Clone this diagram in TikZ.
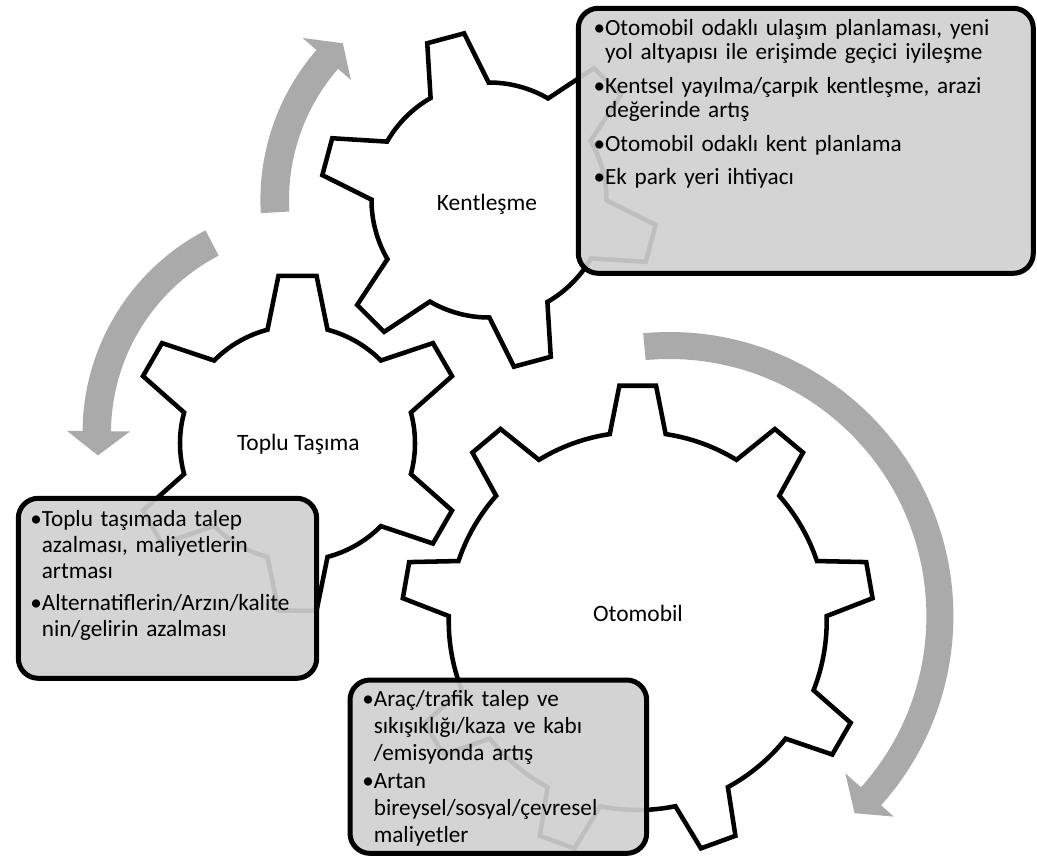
\documentclass[tikz,border=0pt]{standalone}
\usepackage{fontspec}
\setmainfont{Carlito}
\definecolor{arrowgray}{RGB}{170,170,170}
\definecolor{boxgray}{RGB}{208,208,208}
\newlength\bulw
% gear outline: #1 teeth, #2 first tooth angle, #3 root radius, #4 tip radius,
% #5 half angle of the tooth at its root, #6 half angle at its tip
\newcommand\gearpath[6]{({#2-#5}:#3)
  \foreach \k in {1,...,#1}{
    -- ({#2+(\k-1)*360/#1-#6}:#4)
    -- ({#2+(\k-1)*360/#1+#6}:#4)
    -- ({#2+(\k-1)*360/#1+#5}:#3)
    arc[start angle={#2+(\k-1)*360/#1+#5}, end angle={#2+\k*360/#1-#5}, radius=#3]
  } -- cycle}
% curved block arrow: #1 centre, #2 inner r, #3 outer r, #4 tail angle,
% #5 angle of the head base, #6 tip angle, #7 inner barb r, #8 outer barb r
\newcommand\ringarrow[8]{%
  \fill[arrowgray, shift={#1}] (#4:#3) arc[start angle=#4, end angle=#5, radius=#3]
    -- (#5:#8) -- (#6:{(#2+#3)/2}) -- (#5:#7) -- (#5:#2)
    arc[start angle=#5, end angle=#4, radius=#2] -- cycle;}
% one bulleted entry with a hanging indent, closed as its own paragraph
\newcommand\boxitem[1]{\hangindent=\bulw\hangafter=1\noindent\makebox[\bulw][l]{•}#1\par}
\begin{document}
\begin{tikzpicture}[x=0.75pt,y=-0.75pt,
  gearline/.style={draw=black, line width=3.4pt, fill=white, line join=miter},
  infobox/.style={draw=black, line width=3.75pt, fill=boxgray, fill opacity=0.92,
    rounded corners=15pt, inner sep=0pt, anchor=north west},
  gearlabel/.style={font=\fontsize{17.6pt}{21pt}\selectfont, inner sep=0pt, anchor=base},
  boxtext/.style={inner sep=0pt, anchor=base west, align=left}
]
\useasboundingbox (0,0) rectangle (1037,861);

% gears
\draw[gearline, shift={(489,200)}] \gearpath{6}{15}{117.5}{168.5}{14.8}{6.5};
\draw[gearline, shift={(297.5,443.3)}] \gearpath{6}{30}{117.5}{168.5}{14.8}{6.5};
\draw[gearline, shift={(637.7,621)}] \gearpath{9}{30}{189}{236}{8.5}{4.46};

\node[gearlabel] (kent) at (487,210) {Kentleşme};
\node[gearlabel] (toplu) at (298.3,450) {Toplu Taşıma};
\node[gearlabel] (oto) at (638,621.5) {Otomobil};

% rotation arrows
\ringarrow{(489,200)}{200}{228.6}{176.7}{221}{227}{183}{247}
\ringarrow{(311,433)}{200}{228.5}{242.5}{180.5}{174}{181}{244}
\ringarrow{(669.4,616)}{257}{284}{-95.3}{41.8}{46.8}{236}{301}

% text boxes
\node[infobox, minimum width=341.25pt, minimum height=198.75pt] (kentbox) at (575.8,5.8) {};
\node[infobox, minimum width=223.8pt, minimum height=135pt] (toplubox) at (15.8,495.8) {};
\node[infobox, minimum width=222.5pt, minimum height=130pt] (otobox) at (347.5,677.5) {};

\node[boxtext, text width=326pt, font=\fontsize{17.4pt}{18.5pt}\selectfont] (kenttext) at (593.3,35) {%
  \setlength\parskip{6.6pt}\settowidth\bulw{•}%
  \boxitem{Otomobil odaklı ulaşım planlaması, yeni\newline yol altyapısı ile erişimde geçici iyileşme}
  \boxitem{Kentsel yayılma/çarpık kentleşme, arazi\newline değerinde artış}
  \boxitem{Otomobil odaklı kent planlama}
  \boxitem{Ek park yeri ihtiyacı}};
\node[boxtext, text width=212pt, font=\fontsize{17.4pt}{19.6pt}\selectfont] (toplutext) at (30,526.7) {%
  \setlength\parskip{4.3pt}\settowidth\bulw{•}%
  \boxitem{Toplu taşımada talep\newline azalması, maliyetlerin\newline artması}
  \boxitem{Alternatiflerin/Arzın/kalite\newline nin/gelirin azalması}};
\node[boxtext, text width=210pt, font=\fontsize{17.4pt}{20.2pt}\selectfont] (ototext) at (362,706.7) {%
  \setlength\parskip{1.1pt}\settowidth\bulw{•}%
  \boxitem{Araç/trafik talep ve\newline sıkışıklığı/kaza ve kabı\newline /emisyonda artış}
  \boxitem{Artan\newline bireysel/sosyal/çevresel\newline maliyetler}};
\end{tikzpicture}
\end{document}
